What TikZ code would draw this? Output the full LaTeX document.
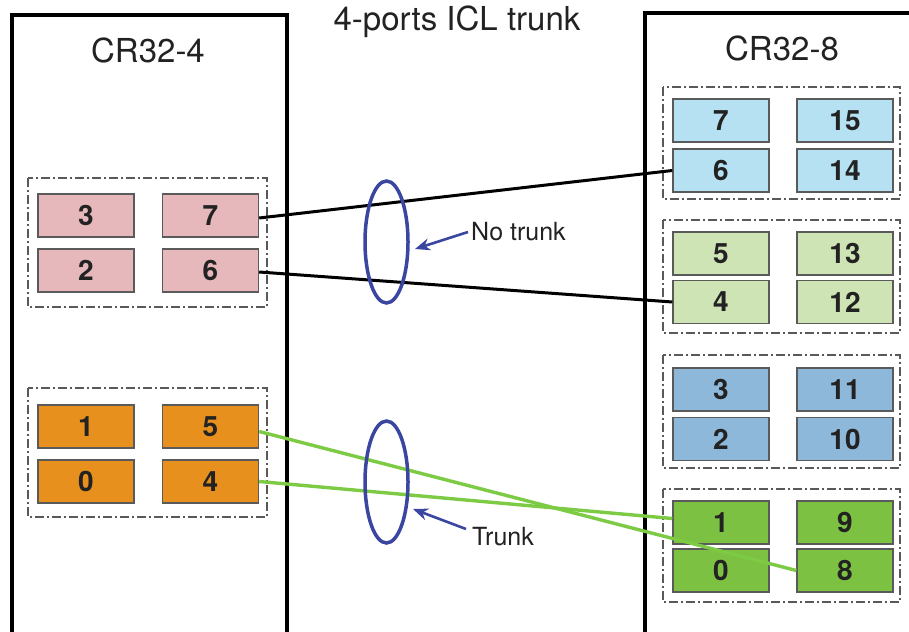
\documentclass[tikz,border=0pt]{standalone}
\usepackage{fontspec}
\setmainfont{TeX Gyre Heros}
\usetikzlibrary{arrows.meta,shapes.geometric}
\definecolor{pinkp}{HTML}{E6B8BB}
\definecolor{orangep}{HTML}{E8901E}
\definecolor{lbluep}{HTML}{B5E1F3}
\definecolor{lgreenp}{HTML}{CFE4B5}
\definecolor{mbluep}{HTML}{8DB8DA}
\definecolor{greenp}{HTML}{7DC142}
\definecolor{portborder}{HTML}{5A5A5A}
\definecolor{ovalblue}{HTML}{3A46A0}
\definecolor{trunkgreen}{HTML}{7DCB45}
\definecolor{txt}{HTML}{222222}
\tikzset{
  port/.style={draw=portborder, line width=1.4pt, minimum width=96pt, minimum height=43pt, inner sep=0pt, font=\fontsize{28}{30}\selectfont\bfseries, text=txt},
  grp/.style={draw=black!65, line width=1.4pt, dash pattern=on 9pt off 3pt on 2pt off 3pt},
  chassis/.style={draw=black, line width=3.2pt},
  lbl/.style={font=\fontsize{33}{36}\selectfont, text=txt, inner sep=0pt},
  note/.style={font=\fontsize{25}{28}\selectfont, text=txt, inner sep=0pt},
  oval/.style={ellipse, draw=ovalblue, line width=3.5pt, minimum width=43pt, minimum height=122pt, inner sep=0pt},
  pointer/.style={draw=ovalblue, line width=2.6pt, -{Stealth[length=15pt,width=12pt]}},
  nolink/.style={draw=black, line width=3pt},
  trunklink/.style={draw=trunkgreen, line width=3.4pt}
}
\begin{document}
\begin{tikzpicture}[x=1pt,y=-1pt]
\clip (0,0) rectangle (909,631);
\fill[white] (0,0) rectangle (909,631);
% chassis
\draw[chassis] (12,15) rectangle (287,660);
\draw[chassis] (645,13) rectangle (930,660);
\node[lbl] (t1) at (148,50) {CR32-4};
\node[lbl] (t2) at (782,48) {CR32-8};
\node[lbl] (title) at (457,22) {4-ports ICL trunk};
% groups
\draw[grp] (28,178) rectangle (267,307);
\draw[grp] (28,388) rectangle (267,517);
\draw[grp] (663,87) rectangle (900,199);
\draw[grp] (663,220) rectangle (900,333);
\draw[grp] (663,355) rectangle (900,468);
\draw[grp] (663,489) rectangle (900,602);
% left ports
\node[port, fill=pinkp] (L3) at (86,215.5) {3};
\node[port, fill=pinkp] (L7) at (210.5,215.5) {7};
\node[port, fill=pinkp] (L2) at (86,270.5) {2};
\node[port, fill=pinkp] (L6) at (210.5,270.5) {6};
\node[port, fill=orangep] (L1) at (86,426.5) {1};
\node[port, fill=orangep] (L5) at (210.5,426.5) {5};
\node[port, fill=orangep] (L0) at (86,481.5) {0};
\node[port, fill=orangep] (L4) at (210.5,481.5) {4};
% right ports
\node[port, fill=lbluep] (R7) at (721,120.5) {7};
\node[port, fill=lbluep] (R15) at (845,120.5) {15};
\node[port, fill=lbluep] (R6) at (721,170.5) {6};
\node[port, fill=lbluep] (R14) at (845,170.5) {14};
\node[port, fill=lgreenp] (R5) at (721,253.5) {5};
\node[port, fill=lgreenp] (R13) at (845,253.5) {13};
\node[port, fill=lgreenp] (R4) at (721,302) {4};
\node[port, fill=lgreenp] (R12) at (845,302) {12};
\node[port, fill=mbluep] (R3) at (721,389.5) {3};
\node[port, fill=mbluep] (R11) at (845,389.5) {11};
\node[port, fill=mbluep] (R2) at (721,439) {2};
\node[port, fill=mbluep] (R10) at (845,439) {10};
\node[port, fill=greenp] (R1) at (721,522.5) {1};
\node[port, fill=greenp] (R9) at (845,522.5) {9};
\node[port, fill=greenp] (R0) at (721,570.5) {0};
\node[port, fill=greenp] (R8) at (845,570.5) {8};
% links
\draw[nolink] ([yshift=-2.5pt]L7.east) -- (R6.west);
\draw[nolink] ([yshift=-1.5pt]L6.east) -- (R4.west);
\draw[trunklink] ([yshift=-5pt]L5.east) -- (R8.west);
\draw[trunklink] (L4.east) -- ([yshift=4pt]R1.west);
% ovals
\node[oval] (o1) at (386.5,242) {};
\node[oval] (o2) at (386.5,482) {};
\node[note, anchor=west] (nt) at (471,232) {No trunk};
\node[note, anchor=west] (tr) at (472,537) {Trunk};
\coordinate (a1) at (415,249);
\coordinate (a2) at (413,509);
\draw[pointer] ([xshift=-3pt]nt.west) -- (a1);
\draw[pointer] ([xshift=-6pt,yshift=8pt]tr.west) -- (a2);
\end{tikzpicture}
\end{document}
